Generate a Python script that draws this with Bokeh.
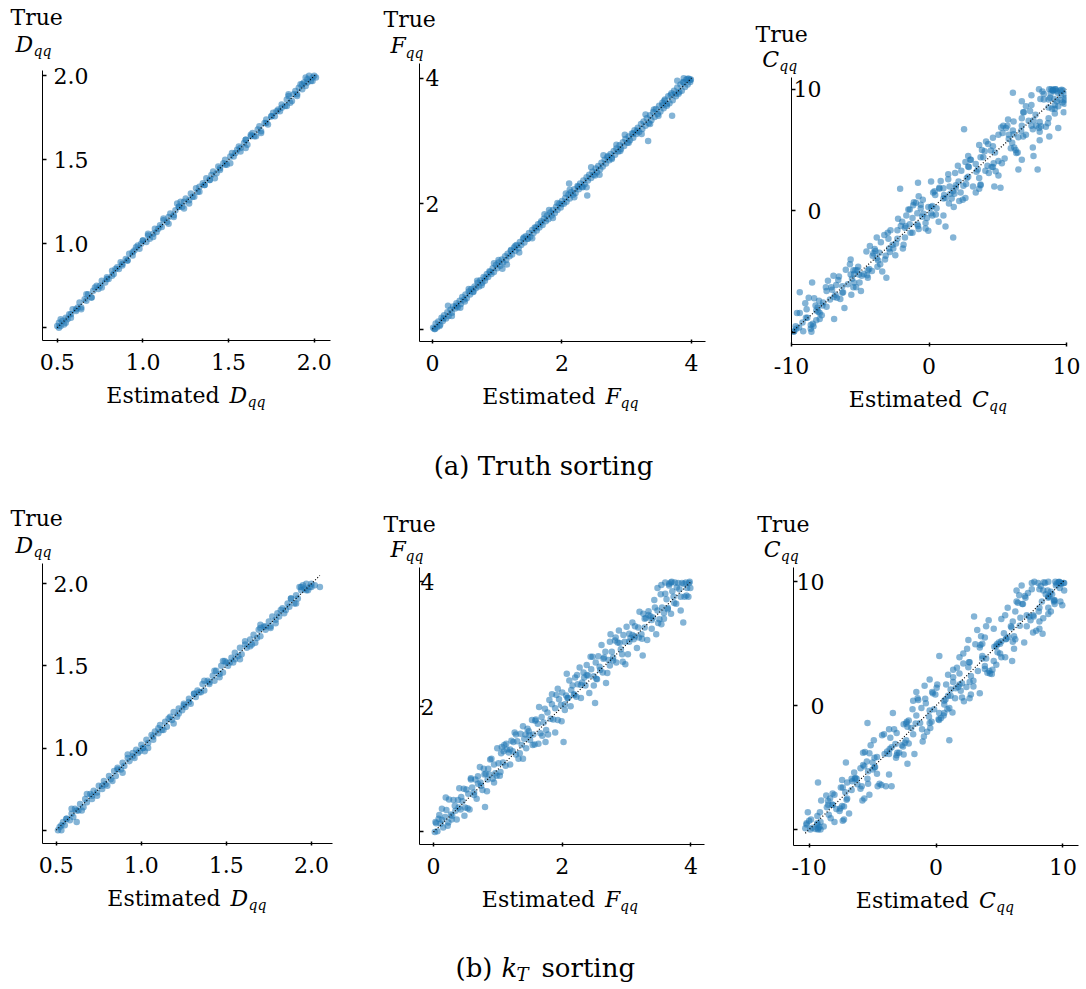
from bokeh.plotting import figure
from bokeh.layouts import column, row
from bokeh.models import Range1d, FixedTicker, Label
from bokeh.embed import file_html
from bokeh.resources import INLINE

FONT = "DejaVu Serif"
BLUE = "#1f77b4"

# ---------------- data (estimated, true) ----------------
# (a) Truth sorting, D_qq
a_D_est = [0.50,0.51,0.51,0.52,0.53,0.54,0.55,0.56,0.57,0.58,0.59,0.61,0.62,0.63,0.64,0.66,0.67,0.68,0.70,0.71,
           0.72,0.74,0.75,0.76,0.78,0.79,0.80,0.82,0.83,0.84,0.86,0.87,0.88,0.90,0.91,0.92,0.94,0.95,0.96,0.98,
           0.99,1.00,1.02,1.03,1.04,1.06,1.07,1.08,1.10,1.11,1.12,1.14,1.15,1.16,1.18,1.19,1.20,1.21,1.23,1.24,
           1.25,1.27,1.28,1.29,1.31,1.32,1.33,1.35,1.36,1.37,1.39,1.40,1.41,1.43,1.44,1.45,1.47,1.48,1.49,1.51,
           1.52,1.53,1.55,1.56,1.57,1.59,1.60,1.61,1.63,1.64,1.65,1.67,1.68,1.69,1.71,1.72,1.73,1.75,1.76,1.77,
           1.79,1.80,1.81,1.83,1.84,1.85,1.86,1.88,1.89,1.90,1.91,1.93,1.94,1.95,1.96,1.97,1.98,1.99,2.00,2.01,
           1.95,1.92,1.60,1.85,1.22]
a_D_true = [0.51,0.50,0.53,0.51,0.54,0.52,0.56,0.55,0.58,0.56,0.61,0.60,0.62,0.65,0.62,0.67,0.66,0.70,0.68,0.72,
            0.74,0.73,0.75,0.78,0.77,0.80,0.79,0.84,0.82,0.85,0.85,0.89,0.87,0.91,0.90,0.94,0.93,0.96,0.98,0.97,
            1.00,1.02,1.01,1.05,1.03,1.06,1.09,1.07,1.11,1.10,1.14,1.13,1.16,1.18,1.16,1.20,1.24,1.22,1.22,1.25,
            1.27,1.26,1.30,1.28,1.33,1.31,1.34,1.36,1.35,1.39,1.38,1.41,1.43,1.42,1.46,1.44,1.48,1.50,1.47,1.52,
            1.54,1.52,1.56,1.58,1.55,1.60,1.62,1.59,1.64,1.66,1.64,1.68,1.70,1.67,1.72,1.74,1.71,1.76,1.78,1.76,
            1.80,1.79,1.83,1.82,1.86,1.88,1.84,1.89,1.91,1.88,1.93,1.92,1.96,1.94,1.98,2.00,1.97,1.99,2.00,1.99,
            1.99,1.95,1.57,1.89,1.25]
a_D_est2 = [0.52,0.55,0.58,0.61,0.64,0.67,0.70,0.73,0.76,0.79,0.82,0.85,0.88,0.91,0.94,0.97,1.00,1.03,1.06,1.09,
            1.12,1.15,1.18,1.21,1.24,1.27,1.30,1.33,1.36,1.39,1.42,1.45,1.48,1.51,1.54,1.57,1.60,1.63,1.66,1.69,
            1.72,1.75,1.78,1.81,1.84,1.87,1.90,1.93,1.96,1.99]
a_D_true2 = [0.55,0.53,0.58,0.61,0.61,0.70,0.68,0.75,0.74,0.79,0.81,0.86,0.88,0.90,0.95,0.99,1.02,1.06,1.04,1.09,
             1.15,1.12,1.17,1.22,1.21,1.24,1.28,1.31,1.35,1.38,1.39,1.45,1.47,1.48,1.54,1.57,1.62,1.65,1.64,1.66,
             1.72,1.76,1.79,1.81,1.82,1.85,1.89,1.95,1.96,1.97]

# (a) Truth sorting, F_qq
a_F_est = [0.01,0.03,0.05,0.07,0.09,0.12,0.14,0.16,0.18,0.21,0.23,0.25,0.28,0.30,0.32,0.35,0.37,0.39,0.42,0.44,
           0.46,0.49,0.51,0.53,0.56,0.58,0.60,0.63,0.65,0.67,0.70,0.72,0.74,0.77,0.79,0.81,0.84,0.86,0.88,0.91,
           0.93,0.95,0.98,1.00,1.02,1.05,1.07,1.09,1.12,1.14,1.16,1.19,1.21,1.23,1.26,1.28,1.30,1.33,1.35,1.37,
           1.40,1.42,1.44,1.47,1.49,1.51,1.54,1.56,1.58,1.61,1.63,1.65,1.68,1.70,1.72,1.75,1.77,1.79,1.82,1.84,
           1.86,1.89,1.91,1.93,1.96,1.98,2.00,2.03,2.05,2.07,2.11,2.10,2.12,2.14,2.17,2.19,2.21,2.24,2.26,2.28,
           2.31,2.33,2.35,2.39,2.38,2.40,2.42,2.45,2.47,2.49,2.52,2.54,2.56,2.59,2.61,2.63,2.66,2.68,2.70,2.73,
           2.75,2.77,2.80,2.82,2.84,2.87,2.89,2.91,2.94,2.96,2.98,3.01,3.03,3.05,3.08,3.10,3.12,3.15,3.17,3.19,
           3.22,3.24,3.26,3.29,3.31,3.33,3.34,3.36,3.38,3.41,3.43,3.45,3.48,3.50,3.52,3.55,3.57,3.59,3.62,3.64,
           3.66,3.70,3.69,3.71,3.73,3.76,3.78,3.80,3.83,3.85,3.87,3.90,3.92,3.94,3.96,3.98,3.99,3.88,3.78,3.58]
a_F_true = [0.02,0.00,0.09,0.03,0.12,0.07,0.18,0.13,0.22,0.17,0.27,0.21,0.31,0.26,0.36,0.33,0.41,0.35,0.45,0.40,
            0.51,0.47,0.55,0.49,0.60,0.55,0.64,0.59,0.68,0.65,0.74,0.68,0.78,0.74,0.83,0.77,0.88,0.83,0.92,0.88,
            0.97,0.91,1.02,0.97,1.06,1.01,1.11,1.06,1.16,1.10,1.20,1.16,1.25,1.19,1.30,1.25,1.34,1.29,1.39,1.34,
            1.44,1.38,1.48,1.44,1.53,1.47,1.58,1.53,1.62,1.57,1.67,1.62,1.72,1.66,1.76,1.72,1.81,1.75,1.86,1.81,
            1.90,1.85,1.95,1.90,2.00,1.94,2.04,2.00,2.09,2.03,2.32,2.14,2.08,2.18,2.14,2.23,2.17,2.28,2.23,2.32,
            2.27,2.37,2.31,2.13,2.42,2.37,2.46,2.41,2.51,2.46,2.56,2.50,2.60,2.55,2.65,2.59,2.70,2.64,2.74,2.69,
            2.79,2.73,2.84,2.78,2.88,2.83,2.93,2.87,2.98,2.92,3.03,2.97,3.07,3.01,3.12,3.05,3.17,3.11,3.21,3.14,
            3.27,3.19,3.31,3.24,3.36,3.00,3.28,3.41,3.33,3.46,3.38,3.51,3.43,3.56,3.47,3.61,3.52,3.66,3.56,3.71,
            3.60,3.40,3.76,3.65,3.80,3.71,3.85,3.75,3.90,3.80,3.94,3.86,3.98,3.90,3.99,3.94,3.98,4.00,3.96,3.64]
a_F_est2 = [0.04,0.11,0.17,0.24,0.30,0.37,0.43,0.50,0.56,0.63,0.69,0.76,0.82,0.89,0.95,1.02,1.08,1.15,1.21,1.28,
            1.34,1.41,1.47,1.54,1.60,1.67,1.73,1.80,1.86,1.93,1.99,2.06,2.12,2.19,2.25,2.32,2.38,2.45,2.51,2.58,
            2.64,2.71,2.77,2.84,2.90,2.97,3.03,3.10,3.16,3.23,3.29,3.36,3.42,3.49,3.55,3.62,3.68,3.75,3.81,3.88,
            3.94,3.98]
a_F_true2 = [0.00,0.05,0.17,0.37,0.21,0.37,0.34,0.44,0.64,0.60,0.77,0.70,0.82,0.91,1.05,1.10,0.96,1.03,1.26,1.33,
             1.22,1.46,1.44,1.45,1.62,1.69,1.83,1.90,1.77,2.01,1.99,2.16,2.22,2.10,2.27,2.26,2.26,2.58,2.45,2.46,
             2.77,2.76,2.71,2.94,2.84,3.10,2.97,3.12,3.16,3.11,3.42,3.27,3.50,3.40,3.57,3.59,3.73,3.75,3.78,3.93,
             3.99,3.97]

# (a) Truth sorting, C_qq
a_C_est = [-9.65,-10.3,-9.2,-9.8,-8.85,-9.7,-9.4,-8.55,-9.4,
           -8.45,-8.9,-8.6,-7.95,-8.5,-9.0,-8.4,-8.05,-8.35,-8.2,
           -7.8,-8.0,-7.45,-8.2,-7.75,-6.8,-6.9,-7.2,-6.75,
           -7.45,-7.05,-6.6,-6.9,-6.3,-6.15,-6.55,-6.25,-5.45,
           -5.65,-5.5,-5.6,-5.3,-5.75,-5.45,-4.95,-5.7,-4.45,
           -5.15,-5.05,-4.1,-5.2,-3.9,-4.5,-3.7,-4.3,-3.75,
           -4.05,-4.45,-3.5,-3.8,-2.9,-3.55,-2.95,-3.1,-2.85,
           -3.25,-3.15,-2.4,-2.3,-2.6,-1.75,-1.95,-2.1,-1.85,
           -1.75,-1.65,-2.3,-1.4,-1.4,-1.2,-1.2,-1.1,-0.75,
           -0.85,-0.8,-0.25,-0.6,-0.5,-0.75,-0.85,-0.05,0.4,0.25,
           -0.45,-0.15,0.75,0.25,0.15,0.45,0.15,0.55,1.05,1.05,
           0.75,1.45,1.2,1.4,1.1,1.8,1.5,1.9,1.76,1.65,2.15,
           2.45,1.95,2.35,1.85,2.75,2.55,2.2,2.9,2.7,3.4,2.65,
           2.85,3.65,2.85,3.45,3.75,3.05,3.85,3.65,4.25,3.65,
           4.35,3.75,4.75,4.15,4.55,4.05,5.05,4.65,5.05,4.65,
           4.65,5.2,5.35,4.8,5.8,5.3,5.7,6.2,5.5,6.1,
           6.3,6.1,5.75,6.75,6.15,6.5,6.85,6.05,6.75,6.45,7.05,6.85,
           6.75,7.55,6.75,7.55,7.35,7.6,8.05,7.45,8.05,7.45,7.9,8.05,
           8.25,7.75,8.75,8.1,8.7,8.0,8.65,8.35,9.15,9.4,8.8,9.15,
           8.75,9.3,8.7,9.35,9.15,9.75,9.1,9.8,9.6,9.85,9.55,9.9,8.9,9.2,9.0,9.0]
a_C_true = [-9.7,-10.0,-9.2,-9.9,-8.8,-9.5,-6.7,-9.95,-8.4,
            -9.3,-8.1,-9.7,-8.9,-5.9,-7.6,-9.5,-8.3,-7.2,-9.0,
            -8.6,-7.4,-6.6,-8.2,-7.8,-6.9,-8.9,-7.3,-6.1,
            -7.9,-6.5,-5.7,-7.1,-6.2,-8.0,-5.4,-6.7,-5.9,
            -6.9,-4.9,-5.6,-6.3,-4.4,-5.2,-6.6,-4.0,-5.5,
            -4.6,-5.9,-3.7,-4.9,-3.3,-5.3,-4.1,-2.9,-4.6,
            -3.5,-4.9,-2.6,-3.9,-3.1,-4.4,-2.3,-5.5,-3.4,
            -2.0,-3.7,-2.7,-1.6,-3.1,-2.2,-0.9,1.8,-2.8,
            -1.4,-0.4,-2.3,-1.1,0.1,-1.8,-0.6,0.7,-1.5,
            -0.2,2.3,-1.0,0.5,-0.5,1.2,-1.1,0.3,1.6,-0.4,
            0.9,-0.6,1.9,0.4,-0.2,1.3,2.4,0.2,1.0,-0.4,
            1.8,0.6,-1.3,2.6,1.3,0.3,2.0,3.1,-2.2,1.0,2.4,
            0.9,1.9,3.3,1.4,2.7,6.7,0.8,3.6,2.2,1.5,4.0,
            2.8,1.8,4.5,3.2,2.1,4.2,5.0,2.7,3.7,5.4,
            3.1,4.4,2.0,5.7,3.6,4.9,2.9,6.0,4.1,5.3,
            3.6,1.9,6.4,4.8,5.9,3.9,7.0,5.2,4.3,6.6,
            5.0,9.7,7.5,4.2,6.3,3.4,8.1,5.6,7.0,4.8,8.6,6.1,
            7.6,5.2,9.0,6.7,8.2,4.5,5.8,9.5,7.3,8.7,3.4,6.5,
            9.8,7.9,6.1,9.2,8.5,10.0,7.2,9.6,8.0,6.8,9.3,8.7,
            10.0,9.0,7.6,9.7,8.4,9.9,9.2,8.1,9.5,8.8,9.9,9.1,10.0,10.0,9.9,9.9]
a_C_est2 = [-9.85,-9.6,-9.45,-9.15,-8.95,-8.75,-8.6,-8.25,-8.1,-7.95,-7.7,-7.5,-7.35,-7.1,-6.95,-6.7,-6.45,-6.3,
            -6.05,-5.9,-5.7,-5.5,-5.35,-5.1,-4.9,-4.75,-4.55,-4.35,-4.15,-3.95,-3.8,-3.6,-3.4,-3.2,-3.0,-2.8,
            -2.65,-2.45,-2.25,-2.05,-1.9,-1.7,-1.5,-1.35,-1.15,-0.95,-0.8,-0.6,-0.4,-0.25,-0.05,0.15,0.3,0.5,
            0.7,0.85,1.05,1.2,1.4,1.55,1.75,1.95,2.1,2.3,2.5,2.65,2.85,3.0,3.2,3.4,3.55,3.75,3.95,4.1,4.3,4.5,
            4.7,4.85,5.05,5.25,5.4,5.6,5.8,5.95,6.15,6.35,6.5,6.7,6.9,7.05,7.25,7.45,7.6,7.8,8.0,8.15,8.35,8.5,
            8.7,8.85,9.05,9.2,9.4,9.55,9.7,9.85,9.95,9.3,8.95,9.65]
a_C_true2 = [-9.95,-8.4,-9.6,-9.9,-8.8,-7.15,-9.4,-7.8,-7.95,-8.4,-7.55,-6.3,-5.75,-6.3,-5.35,-7.15,-7.25,-6.75,
             -4.85,-6.05,-5.25,-6.3,-4.9,-5.25,-5.35,-5.2,-3.35,-4.8,-4.95,-3.15,-2.2,-3.45,-5.0,-4.0,-1.8,-1.6,
             -2.8,-3.65,-0.65,-1.25,-3.1,-1.25,0.1,-1.8,0.45,0.65,-1.25,0.2,-0.25,-1.45,-1.65,0.3,1.5,-0.3,
             -0.9,2.45,1.85,1.05,3.0,1.4,1.6,2.1,3.7,1.5,2.05,1.05,3.65,4.2,2.0,3.85,3.4,2.15,4.4,3.3,5.5,4.95,
             3.9,3.25,6.25,6.85,7.0,6.8,6.25,5.15,7.35,4.75,6.05,6.55,8.1,6.25,7.4,7.0,7.45,7.0,6.8,6.95,9.15,6.9,
             9.15,9.65,9.95,10.0,8.6,9.1,8.9,9.6,9.25,9.85,8.4,9.95]

# (b) kT sorting, D_qq
b_D_est = [0.51,0.52,0.53,0.54,0.55,0.56,0.58,0.59,0.60,0.62,0.61,0.63,0.64,0.66,0.67,0.68,0.70,0.71,0.72,0.74,
           0.75,0.77,0.78,0.79,0.81,0.82,0.84,0.85,0.86,0.88,0.89,0.90,0.92,0.93,0.95,0.96,0.97,0.99,1.00,1.01,
           1.03,1.04,1.06,1.07,1.08,1.10,1.11,1.12,1.14,1.15,1.17,1.18,1.19,1.21,1.22,1.24,1.25,1.26,1.28,1.29,
           1.31,1.32,1.33,1.35,1.36,1.37,1.39,1.40,1.42,1.43,1.44,1.46,1.47,1.48,1.50,1.51,1.53,1.54,1.55,1.57,
           1.58,1.59,1.61,1.62,1.64,1.65,1.66,1.68,1.69,1.70,1.72,1.73,1.75,1.76,1.77,1.79,1.80,1.81,1.83,1.84,
           1.86,1.87,1.88,1.90,1.91,1.92,1.94,1.95,1.96,1.97,1.99,2.00,2.02,2.05,1.93,1.98,1.70,1.48,1.02]
b_D_true = [0.50,0.52,0.50,0.55,0.53,0.57,0.56,0.60,0.58,0.55,0.63,0.62,0.66,0.64,0.69,0.67,0.72,0.69,0.74,0.73,
            0.77,0.75,0.80,0.78,0.83,0.81,0.86,0.83,0.88,0.87,0.91,0.89,0.94,0.92,0.97,0.94,0.99,0.98,1.02,1.00,
            1.05,1.03,1.08,1.05,1.10,1.09,1.14,1.11,1.16,1.13,1.19,1.17,1.22,1.19,1.24,1.23,1.27,1.25,1.30,1.27,
            1.33,1.31,1.35,1.34,1.39,1.35,1.41,1.39,1.44,1.41,1.47,1.45,1.50,1.46,1.52,1.50,1.55,1.52,1.58,1.56,
            1.61,1.57,1.63,1.61,1.66,1.63,1.69,1.67,1.72,1.68,1.74,1.72,1.77,1.74,1.80,1.78,1.82,1.80,1.85,1.82,
            1.88,1.86,1.91,1.88,1.93,1.91,1.96,1.99,1.97,2.00,1.98,2.00,1.99,1.98,1.98,1.96,1.75,1.53,0.98]
b_D_est2 = [0.53,0.56,0.59,0.62,0.65,0.68,0.71,0.74,0.77,0.80,0.83,0.86,0.89,0.92,0.95,0.98,1.01,1.04,1.07,1.10,
            1.13,1.16,1.19,1.22,1.25,1.28,1.31,1.34,1.37,1.40,1.43,1.46,1.49,1.52,1.55,1.58,1.61,1.64,1.67,1.70,
            1.73,1.76,1.79,1.82,1.85,1.88,1.91,1.94,1.97,2.00]
b_D_true2 = [0.53,0.57,0.63,0.62,0.62,0.72,0.71,0.71,0.77,0.77,0.80,0.87,0.85,0.96,0.95,0.97,1.00,1.00,1.07,1.12,
             1.11,1.18,1.15,1.21,1.26,1.28,1.33,1.34,1.41,1.40,1.47,1.43,1.53,1.52,1.54,1.54,1.65,1.62,1.64,1.73,
             1.74,1.73,1.76,1.84,1.84,1.91,1.88,1.98,1.96,1.98]

# (b) kT sorting, F_qq
b_F_est = [0.02,0.04,0.06,0.09,0.11,0.13,0.15,0.18,0.20,0.22,0.24,0.27,0.29,0.31,0.33,0.36,0.38,0.40,0.42,0.45,
           0.47,0.49,0.51,0.54,0.56,0.58,0.60,0.63,0.65,0.67,0.69,0.72,0.74,0.76,0.78,0.80,0.81,0.83,0.85,0.87,
           0.90,0.92,0.94,0.96,0.99,1.01,1.03,1.05,1.06,1.08,1.10,1.12,1.14,1.17,1.19,1.21,1.23,1.26,1.28,1.30,
           1.32,1.35,1.37,1.39,1.41,1.44,1.46,1.48,1.50,1.53,1.55,1.57,1.59,1.62,1.64,1.66,1.68,1.71,1.73,1.75,
           1.77,1.80,1.82,1.84,1.86,1.89,1.91,1.93,1.95,1.98,2.00,2.02,2.04,2.06,2.07,
           2.09,2.11,2.13,2.16,2.18,2.20,2.22,2.24,2.27,2.29,2.31,2.33,2.36,2.38,2.40,2.42,2.45,2.47,2.49,2.51,
           2.52,2.54,2.56,2.58,2.61,2.63,2.65,2.67,2.70,2.72,2.74,2.75,2.77,2.79,2.82,2.84,2.86,2.88,2.91,2.93,
           2.95,2.97,3.00,3.02,3.04,3.06,3.09,3.11,3.13,3.16,3.18,3.20,3.23,3.25,3.26,3.28,3.30,3.32,3.34,3.37,
           3.39,3.41,3.44,3.46,3.48,3.51,3.53,3.55,3.58,3.60,3.62,3.64,3.66,3.69,3.71,3.73,3.75,3.77,3.80,3.82,
           3.84,3.86,3.88,3.90,3.92,3.94,3.96,3.98,3.99,3.60,3.66,3.70,3.54,3.48]
b_F_true = [0.00,0.14,0.01,0.27,0.13,0.37,0.07,0.24,0.35,0.10,0.52,0.28,0.26,0.51,0.42,0.20,0.51,0.70,0.36,0.49,
            0.69,0.39,0.68,0.61,0.36,0.84,0.71,0.59,0.84,0.53,0.77,1.04,0.74,0.67,1.01,0.40,0.93,0.65,1.01,0.92,
            1.17,0.85,1.08,0.94,1.34,1.10,0.90,1.26,1.36,1.11,1.39,1.06,1.32,1.27,1.08,1.46,1.29,1.59,1.24,1.45,
            1.17,1.57,1.39,1.69,1.49,1.34,1.65,1.61,1.47,1.79,1.56,1.40,1.80,1.73,2.00,1.58,1.84,1.75,1.97,1.63,
            1.91,2.11,1.81,2.04,1.80,1.98,2.19,1.79,2.12,2.03,2.23,1.44,1.95,2.18,2.53,
            2.14,2.42,2.01,2.34,2.20,2.47,2.16,2.36,2.63,2.14,2.39,2.55,2.34,2.67,2.50,2.22,2.60,2.80,2.49,2.06,
            2.71,2.44,2.81,2.64,2.99,2.55,2.79,2.88,2.54,2.75,3.04,3.16,2.88,2.74,3.06,2.71,3.03,3.22,2.92,2.84,
            3.15,3.04,3.28,2.84,3.17,3.10,3.35,3.08,3.29,2.94,3.27,3.52,3.16,2.82,3.49,3.27,3.42,3.07,3.53,3.45,
            3.25,3.43,3.59,3.16,3.54,3.40,3.80,3.59,3.41,3.81,3.72,3.58,3.94,3.49,3.85,3.76,3.99,3.65,3.98,3.88,
            3.76,3.98,3.35,3.76,3.99,3.90,3.76,4.00,3.90,3.99,3.97,4.00,3.95,3.90]
b_F_est2 = [0.03,0.08,0.13,0.19,0.23,0.28,0.34,0.39,0.43,0.48,0.53,0.58,0.63,0.69,0.73,0.79,0.84,0.88,0.94,0.98,
            1.04,1.09,1.13,1.19,1.24,1.28,1.34,1.39,1.43,1.49,1.54,1.58,1.63,1.69,1.74,1.78,1.84,1.89,1.93,1.99,
            2.04,2.08,2.14,2.19,2.23,2.29,2.34,2.38,2.44,2.49,2.53,2.59,2.64,2.68,2.74,2.79,2.83,2.89,2.94,2.98,
            3.04,3.09,3.13,3.19,3.24,3.28,3.34,3.39,3.43,3.49,3.54,3.58,3.64,3.69,3.74,3.78,3.84,3.89,3.93,3.97]
b_F_true2 = [0.16,0.21,0.19,0.55,0.15,0.20,0.34,0.39,0.56,0.26,0.38,0.86,0.63,0.89,0.79,0.92,0.84,1.16,0.79,0.90,
             0.96,1.29,1.41,1.32,1.44,1.56,1.26,1.17,1.56,1.55,1.39,1.78,1.41,1.54,1.44,1.56,2.20,1.59,2.29,1.77,
             2.04,2.14,2.27,2.19,2.51,2.35,2.47,2.51,2.80,2.34,2.45,2.59,2.77,2.38,2.66,2.79,3.11,3.02,2.72,2.68,
             3.04,3.15,3.13,3.11,3.09,3.41,3.47,3.39,3.71,3.34,3.32,3.50,3.56,3.99,3.66,3.91,3.54,3.97,3.78,3.98]

# (b) kT sorting, C_qq
b_C_est = [-10.3,-10.2,-9.3,-9.85,-9.2,-10.1,-9.3,-9.1,-9.1,-9.35,
           -9.35,-8.6,-8.3,-8.35,-9.3,-9.15,-8.15,-7.35,-8.15,
           -7.35,-8.45,-8.5,-7.0,-7.25,-8.0,-6.65,-7.55,-7.1,-6.65,
           -7.05,-6.45,-7.5,-7.4,-6.25,-7.15,-5.65,-5.35,-5.65,
           -5.35,-5.95,-5.45,-6.4,-5.25,-5.4,-5.75,-5.85,-5.75,-4.65,
           -4.85,-4.6,-5.15,-4.85,-3.7,-4.3,-4.9,-5.0,-3.65,
           -3.95,-4.1,-3.15,-3.2,-3.5,-3.7,-3.05,-3.6,-2.25,
           -2.55,-2.6,-3.1,-3.4,-1.7,-2.25,-2.35,-1.85,-2.3,
           -2.45,-1.55,-1.1,-1.8,-2.15,-0.95,-1.15,-1.55,-0.55,
           -0.45,-1.45,-0.5,-0.9,0.2,-0.5,-0.8,0.25,-0.25,
           -0.35,0.75,0.26,0.1,0.9,-0.05,0.95,0.65,1.55,0.65,
           1.05,1.35,0.65,1.35,1.95,1.05,1.35,2.15,1.15,2.05,1.85,
           2.65,1.85,2.45,1.75,2.55,2.95,2.15,3.45,2.65,3.0,2.55,
           2.75,3.65,2.65,3.55,3.85,3.45,4.25,3.25,3.95,3.65,
           4.45,3.95,4.85,3.85,4.75,4.15,4.75,5.45,4.55,5.15,
           4.55,5.45,5.05,5.95,5.05,5.65,6.15,5.15,6.05,6.0,
           6.35,5.55,6.65,6.15,6.55,7.15,6.25,6.95,6.35,7.45,
           6.85,7.65,6.75,7.65,7.05,8.15,7.55,8.15,7.25,8.15,
           8.35,7.75,8.85,8.15,8.4,8.85,8.05,8.85,8.45,9.35,8.85,
           8.65,9.45,9.05,9.85,8.85,9.75,9.35,9.85,9.3,10.1,10.1,9.7,8.5]
b_C_true = [-9.9,-9.5,-10.0,-9.2,-9.8,-8.6,-6.2,-9.4,-10.0,-8.9,
            -9.6,-8.2,-9.1,-7.5,-9.9,-8.6,-7.1,-9.3,-8.0,
            -6.6,-8.8,-7.7,-6.2,-9.2,-7.2,-5.9,-8.3,-4.6,-6.8,
            -7.6,-5.4,-6.6,-8.1,-5.9,-7.0,-4.9,-6.3,-7.5,
            -5.3,-6.7,-4.5,-5.9,-7.2,-1.4,-4.8,-6.5,-3.8,-5.5,
            -4.2,-6.5,-3.2,-5.0,-3.9,-6.4,-2.8,-4.6,-3.5,
            -6.5,-2.3,-4.2,-3.1,-6.5,-1.9,-3.8,-2.6,-4.7,
            -1.5,-3.3,-2.2,-0.6,-3.9,-1.7,-2.8,-0.3,-1.3,
            -3.0,-0.8,-1.9,0.4,-1.2,-2.5,-0.2,1.1,-0.9,
            -1.8,0.6,-0.4,1.6,-1.1,2.1,0.2,-0.6,1.0,
            -1.3,0.5,4.0,1.7,-0.3,0.9,2.5,0.1,1.4,-0.6,
            -2.8,1.9,0.4,2.9,1.2,-0.2,2.3,3.4,0.8,1.8,3.9,
            0.6,2.6,4.6,1.5,3.1,2.0,4.2,1.0,3.5,7.2,5.3,
            2.4,4.0,1.9,5.6,3.2,4.7,2.6,6.1,3.8,5.0,
            2.9,6.4,4.3,5.5,3.3,6.9,4.8,3.9,6.2,5.2,
            3.6,7.3,5.0,6.3,4.2,7.9,5.6,3.9,6.8,3.6,
            8.4,5.4,7.1,4.6,8.9,6.4,7.6,5.1,9.3,6.9,
            8.2,5.9,9.7,7.3,8.7,6.2,9.9,7.9,9.1,6.8,
            8.4,10.0,7.4,9.4,5.8,8.8,9.9,7.9,9.3,8.5,10.0,
            9.0,9.7,7.6,9.9,8.7,9.5,8.2,9.8,8.5,9.3,9.9,10.0,9.95]
b_C_est2 = [-9.75,-9.5,-9.35,-9.05,-8.85,-8.65,-8.5,-8.15,-8.0,-7.85,-7.6,-7.4,-7.25,-7.0,-6.85,-6.6,-6.35,-6.2,
            -5.95,-5.8,-5.6,-5.4,-5.25,-5.0,-4.8,-4.65,-4.45,-4.25,-4.05,-3.85,-3.7,-3.5,-3.3,-3.1,-2.9,-2.7,
            -2.55,-2.35,-2.15,-1.95,-1.8,-1.6,-1.4,-1.25,-1.05,-0.85,-0.7,-0.5,-0.3,-0.15,0.05,0.25,0.4,0.6,
            0.8,0.95,1.15,1.3,1.5,1.65,1.85,2.05,2.2,2.4,2.6,2.75,2.95,3.1,3.3,3.5,3.65,3.85,4.05,4.2,4.4,4.6,
            4.8,4.95,5.15,5.35,5.5,5.7,5.9,6.05,6.25,6.45,6.6,6.8,7.0,7.15,7.35,7.55,7.7,7.9,8.1,8.25,8.45,8.6,
            8.8,8.95,9.15,9.3,9.5,9.65,9.8,9.95,10.05,9.4,9.05,9.75,-10.2,-9.9,-10.0]
b_C_true2 = [-9.85,-9.95,-9.5,-7.65,-9.75,-7.25,-8.0,-8.0,-9.4,-8.35,-8.5,-6.0,-8.15,-7.5,-8.7,-6.1,-5.85,-6.35,
             -5.05,-7.65,-3.75,-5.9,-3.85,-5.15,-4.95,-4.15,-6.3,-2.4,-3.9,-3.7,-5.55,-3.35,-1.9,-4.0,-3.8,-3.2,
             -3.95,-1.45,-3.05,-1.8,-2.3,-1.45,0.45,-1.4,-2.9,0.55,-2.1,-1.4,1.1,-0.3,1.45,-1.15,-1.0,-0.8,
             1.7,0.8,1.3,-0.55,0.6,3.05,1.7,0.65,0.35,1.5,3.5,0.9,1.55,4.95,2.8,4.9,3.8,2.95,2.65,2.8,2.55,4.75,
             4.95,5.1,7.0,5.85,5.35,5.55,6.4,5.15,5.35,8.3,6.45,8.2,8.85,7.3,7.2,9.4,7.2,6.05,7.6,9.65,7.05,9.9,
             9.3,8.8,9.0,8.4,9.85,9.95,8.4,8.1,9.9,10.0,9.2,9.95,-9.6,-10.0,-9.3]

# tick values and labels
D_ticks = [0.5, 1.0, 1.5, 2.0]
D_xlabels = ["0.5", "1.0", "1.5", "2.0"]
D_ylabels = ["", "1.0", "1.5", "2.0"]
F_ticks = [0, 2, 4]
F_xlabels = ["0", "2", "4"]
F_ylabels = ["", "2", "4"]
C_ticks = [-10, 0, 10]
C_xlabels = ["-10", "0", "10"]
C_ylabels = ["", "0", "10"]


def no_align(f):
    if "frame_align" in f.properties():
        f.frame_align = False
    return f


def strip(w, h):
    s = figure(width=w, height=h, x_range=Range1d(0, w), y_range=Range1d(0, h), title=None,
               output_backend="svg", toolbar_location=None, x_axis_location=None, y_axis_location=None,
               min_border=0, min_border_left=0, min_border_right=0, min_border_top=0, min_border_bottom=0)
    s.outline_line_color = None
    s.xgrid.visible = False
    s.ygrid.visible = False
    return no_align(s)


def txt(fig, x, y, text, size=22, style="normal", align="left"):
    # y is the wanted baseline height (pixels from the strip bottom)
    fig.add_layout(Label(x=x, y=y + 0.37 * size, text=text, text_font=FONT, text_font_size=f"{size}px",
                         text_font_style=style, text_align=align,
                         text_baseline="alphabetic", text_color="black"))


def panel(est, tru, letter, letter_w, xr, yr, ticks, xlabels, ylabels,
          cw, L, R, T, B, ht, ystand, true_pos, let_pos):
    hb = 430 - (B + 43)
    hm = B + 43 - ht
    # top strip: "True" above the letter with subscript
    top = strip(cw, ht)
    txt(top, true_pos[0], ht - true_pos[1], "True")
    txt(top, let_pos[0], ht - let_pos[1], letter, style="italic")
    txt(top, let_pos[0] + letter_w, ht - let_pos[1] - 4, "qq", size=14, style="italic")

    p = figure(width=cw, height=hm, x_range=Range1d(*xr), y_range=Range1d(*yr), title=None,
               output_backend="svg", toolbar_location=None,
               min_border_left=L, min_border_top=T - ht, min_border_right=cw - R, min_border_bottom=43)
    no_align(p)
    p.outline_line_color = None
    p.xgrid.visible = False
    p.ygrid.visible = False

    for ax, labels in ((p.xaxis[0], xlabels), (p.yaxis[0], ylabels)):
        ax.ticker = FixedTicker(ticks=ticks, minor_ticks=[])
        ax.major_label_overrides = {t: s for t, s in zip(ticks, labels)}
        ax.axis_line_color = "black"
        ax.axis_line_width = 1
        ax.major_tick_line_color = "black"
        ax.major_tick_line_width = 1.5
        ax.minor_tick_line_color = None
        ax.major_label_text_font = FONT
        ax.major_label_text_font_size = "22px"
        ax.major_label_text_color = "black"
    p.xaxis.major_tick_in = 2
    p.xaxis.major_tick_out = 2
    p.xaxis.major_label_standoff = 11
    p.yaxis.major_tick_in = 4
    p.yaxis.major_tick_out = 0
    p.yaxis.major_label_standoff = ystand

    lo = min(min(est), min(tru))
    hi = max(max(est), max(tru))
    p.scatter(est, tru, size=6.5, fill_color=BLUE, fill_alpha=0.55, line_color=None)
    p.line([lo, hi], [lo, hi], line_color="black", line_width=1.2, line_dash="1 2")

    # bottom strip: "Estimated X_qq"
    bot = strip(cw, hb)
    xc = (L + R) / 2
    yb = hb - 20
    txt(bot, xc + 33, yb, "Estimated", align="right")
    txt(bot, xc + 43, yb, letter, style="italic")
    txt(bot, xc + 43 + letter_w, yb - 4, "qq", size=14, style="italic")
    return column(top, p, bot, spacing=0)


c1 = panel(a_D_est + a_D_est2, a_D_true + a_D_true2, "D", 18, (0.414, 2.095), (0.424, 2.032),
           D_ticks, D_xlabels, D_ylabels, 370, 42, 330, 70, 340, 62, -46, (10, 25), (15, 51.7))
c2 = panel(a_F_est + a_F_est2, a_F_true + a_F_true2, "F", 15, (-0.2, 4.216), (-0.198, 4.234),
           F_ticks, F_xlabels, F_ylabels, 370, 49, 335, 63, 341, 62, -20, (13, 27), (20, 53.3))
c3 = panel(a_C_est + a_C_est2, a_C_true + a_C_true2, "C", 17, (-10.0, 10.0), (-11.0, 10.96),
           C_ticks, C_xlabels, C_ylabels, 346, 51, 326, 77, 344, 75, -30, (15, 41.7), (21.7, 66.7))
c4 = panel(b_D_est + b_D_est2, b_D_true + b_D_true2, "D", 18, (0.419, 2.124), (0.419, 2.123),
           D_ticks, D_xlabels, D_ylabels, 370, 42, 332, 63, 343, 62, -46, (10, 26), (15, 52.7))
c5 = panel(b_F_est + b_F_est2, b_F_true + b_F_true2, "F", 15, (-0.218, 4.21), (-0.2, 4.228),
           F_ticks, F_xlabels, F_ylabels, 370, 49, 334, 67, 344, 66, -15, (13, 31.7), (20, 56.7))
c6 = panel(b_C_est + b_C_est2, b_C_true + b_C_true2, "C", 17, (-11.23, 11.23), (-11.29, 11.15),
           C_ticks, C_xlabels, C_ylabels, 346, 53, 338, 67, 345, 66, -31, (16.7, 31.7), (23.3, 56.7))

cap_a = strip(1086, 70)
txt(cap_a, 543, 70 - 45, "(a) Truth sorting", size=26, align="center")

cap_b = strip(1086, 59)
yb = 59 - 46.7
txt(cap_b, 455, yb, "(b)", size=26)
txt(cap_b, 501, yb, "k", size=26, style="italic")
txt(cap_b, 516, yb - 4, "T", size=18, style="italic")
txt(cap_b, 541, yb, "sorting", size=26)

layout = column(row(c1, c2, c3, spacing=0), cap_a, row(c4, c5, c6, spacing=0), cap_b, spacing=0)

open("out.html", "w").write(file_html(layout, INLINE))
